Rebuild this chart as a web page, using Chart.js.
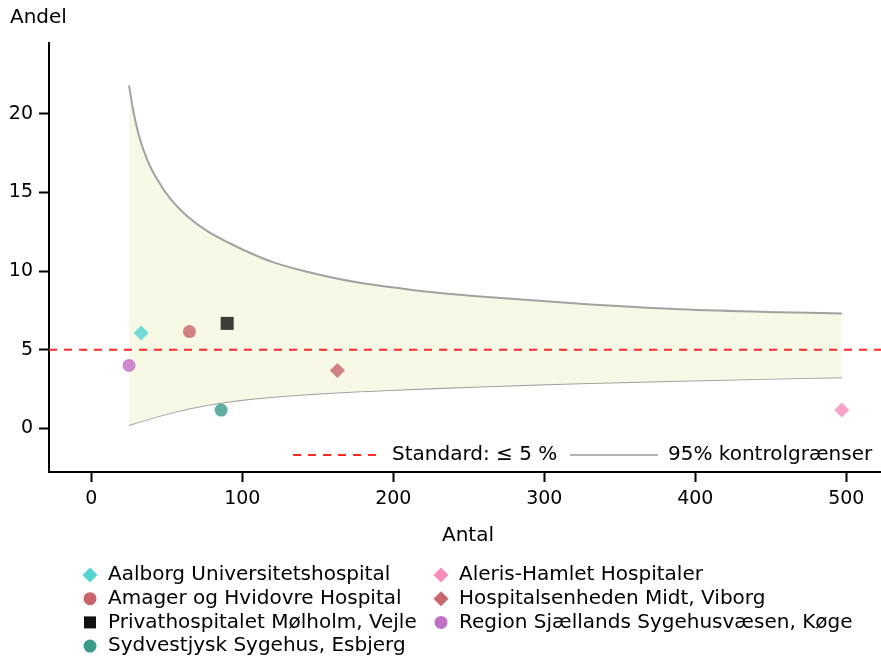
<!DOCTYPE html>
<html>
<head>
<meta charset="utf-8">
<script src="https://cdn.jsdelivr.net/npm/chart.js@4.4.1/dist/chart.umd.min.js"></script>
<style>
  html, body { margin: 0; padding: 0; background: #fff; }
  canvas { display: block; }
</style>
</head>
<body>
<canvas id="funnel" width="881" height="659"></canvas>
<script>
// hospitals, counts (Antal) and shares in % (Andel)
const hospitals = [
  'Aalborg Universitetshospital',
  'Amager og Hvidovre Hospital',
  'Privathospitalet Mølholm, Vejle',
  'Sydvestjysk Sygehus, Esbjerg',
  'Aleris-Hamlet Hospitaler',
  'Hospitalsenheden Midt, Viborg',
  'Region Sjællands Sygehusvæsen, Køge'
];
const antal = [33, 65, 90, 86, 497, 163, 25];
const andel = [6.06, 6.15, 6.67, 1.16, 1.17, 3.68, 4.0];
const markerStyles = ['rectRot', 'circle', 'rect', 'circle', 'rectRot', 'rectRot', 'circle'];
const markerColors = ['#55d4d2', '#c9646a', '#111111', '#3a9a8a', '#f78dba', '#c8666c', '#c070c2'];

// 95% control limits
const upperN = [25, 28, 31.3, 36.9, 43.5, 52.3, 63.4, 76.6, 92, 107.5, 120.7, 142.8, 164.9, 187, 209, 231, 257.6, 323.8, 390, 456, 497];
const upperLimit = [21.8, 20.1, 18.7, 17.1, 15.85, 14.6, 13.5, 12.55, 11.75, 11.05, 10.55, 9.95, 9.48, 9.12, 8.84, 8.6, 8.38, 7.92, 7.57, 7.38, 7.3];
const lowerN = [25, 43.4, 65.6, 87.6, 109.7, 153.8, 198, 257.6, 323.8, 390, 497];
const lowerLimit = [0.21, 0.74, 1.27, 1.65, 1.91, 2.23, 2.44, 2.65, 2.86, 3.03, 3.25];

const standard = 5;
const xMin = -28, xMax = 523;
const yMin = -2.78, yMax = 24.5;
const xTicks = [0, 100, 200, 300, 400, 500];
const yTicks = [0, 5, 10, 15, 20];

const font = '"DejaVu Sans", sans-serif';

function drawMarker(ctx, style, x, y, size, color) {
  ctx.save();
  ctx.fillStyle = color;
  ctx.beginPath();
  if (style === 'circle') {
    ctx.arc(x, y, size / 2, 0, Math.PI * 2);
  } else if (style === 'rect') {
    ctx.rect(x - size / 2, y - size / 2, size, size);
  } else {
    ctx.moveTo(x, y - size / 2);
    ctx.lineTo(x + size / 2, y);
    ctx.lineTo(x, y + size / 2);
    ctx.lineTo(x - size / 2, y);
    ctx.closePath();
  }
  ctx.fill();
  ctx.restore();
}

const extras = {
  id: 'extras',
  afterDraw(chart) {
    const ctx = chart.ctx;
    ctx.save();
    ctx.fillStyle = '#000';
    ctx.font = '20px ' + font;
    ctx.textBaseline = 'middle';
    ctx.textAlign = 'left';
    ctx.fillText('Andel', 10, 18);
    ctx.textAlign = 'center';
    ctx.fillText('Antal', 468, 536);

    // legend inside the plot
    const ly = 455;
    ctx.lineWidth = 2;
    ctx.strokeStyle = '#ff2a2a';
    ctx.setLineDash([8, 7]);
    ctx.beginPath(); ctx.moveTo(293, ly); ctx.lineTo(378, ly); ctx.stroke();
    ctx.setLineDash([]);
    ctx.strokeStyle = '#b4b4b4';
    ctx.beginPath(); ctx.moveTo(570, ly); ctx.lineTo(658, ly); ctx.stroke();
    ctx.textAlign = 'left';
    ctx.fillText('Standard: \u2264 5 %', 392, ly);
    ctx.fillText('95% kontrolgrænser', 668, ly);

    // legend under the plot, filled column by column
    const rows = 4;
    hospitals.forEach((name, i) => {
      const col = Math.floor(i / rows), row = i % rows;
      const mx = col === 0 ? 90 : 441;
      const y = 575 + row * 23.7;
      const size = markerStyles[i] === 'rectRot' ? 15 : (markerStyles[i] === 'rect' ? 12 : 13);
      drawMarker(ctx, markerStyles[i], mx, y, size, markerColors[i]);
      ctx.fillStyle = '#000';
      ctx.fillText(name, mx + 18, y);
    });
    ctx.restore();
  }
};

const datasets = [];
hospitals.forEach((name, i) => {
  datasets.push({
    label: name,
    data: [{ x: antal[i], y: andel[i] }],
    pointStyle: markerStyles[i],
    pointRadius: markerStyles[i] === 'rect' ? 9.2 : (markerStyles[i] === 'rectRot' ? 7.5 : 6.5),
    pointBackgroundColor: markerColors[i] + 'd0',
    pointBorderWidth: 0,
    showLine: false,
    order: 0
  });
});
datasets.push({
  label: 'Standard',
  data: [{ x: xMin, y: standard }, { x: xMax, y: standard }],
  showLine: true,
  borderColor: '#ff2a2a',
  borderWidth: 2,
  borderDash: [8, 7],
  pointRadius: 0,
  order: 1
});
datasets.push({
  label: 'Øvre grænse',
  data: upperN.map((n, i) => ({ x: n, y: upperLimit[i] })),
  showLine: true,
  borderColor: '#a2a2a2',
  borderWidth: 2,
  cubicInterpolationMode: 'monotone',
  pointRadius: 0,
  fill: '+1',
  backgroundColor: '#f7f9e6',
  order: 2
});
datasets.push({
  label: 'Nedre grænse',
  data: lowerN.map((n, i) => ({ x: n, y: lowerLimit[i] })),
  showLine: true,
  borderColor: '#a2a2a2',
  borderWidth: 2,
  cubicInterpolationMode: 'monotone',
  pointRadius: 0,
  fill: false,
  order: 2
});

const axisCommon = {
  type: 'linear',
  grid: { drawOnChartArea: false, drawTicks: true, tickLength: 10, tickColor: '#000', tickWidth: 2 },
  border: { color: '#000', width: 2 },
  ticks: { color: '#000', font: { family: font, size: 19 }, maxRotation: 0 }
};

function noPad(s) {
  s.paddingLeft = 0; s.paddingRight = 0; s.paddingTop = 0; s.paddingBottom = 0;
}

new Chart(document.getElementById('funnel').getContext('2d'), {
  type: 'scatter',
  data: { datasets },
  options: {
    responsive: false,
    animation: false,
    layout: { autoPadding: false, padding: { top: 43, right: 0, bottom: 107, left: 0 } },
    plugins: { legend: { display: false }, tooltip: { enabled: false } },
    scales: {
      x: {
        ...axisCommon,
        min: xMin, max: xMax,
        ticks: { ...axisCommon.ticks, padding: 6 },
        afterBuildTicks: s => { s.ticks = xTicks.map(v => ({ value: v })); },
        afterFit: s => { s.height = 80; noPad(s); }
      },
      y: {
        ...axisCommon,
        min: yMin, max: yMax,
        ticks: { ...axisCommon.ticks, padding: 6 },
        afterBuildTicks: s => { s.ticks = yTicks.map(v => ({ value: v })); },
        afterFit: s => { s.width = 49; noPad(s); }
      }
    }
  },
  plugins: [extras]
});
</script>
</body>
</html>
